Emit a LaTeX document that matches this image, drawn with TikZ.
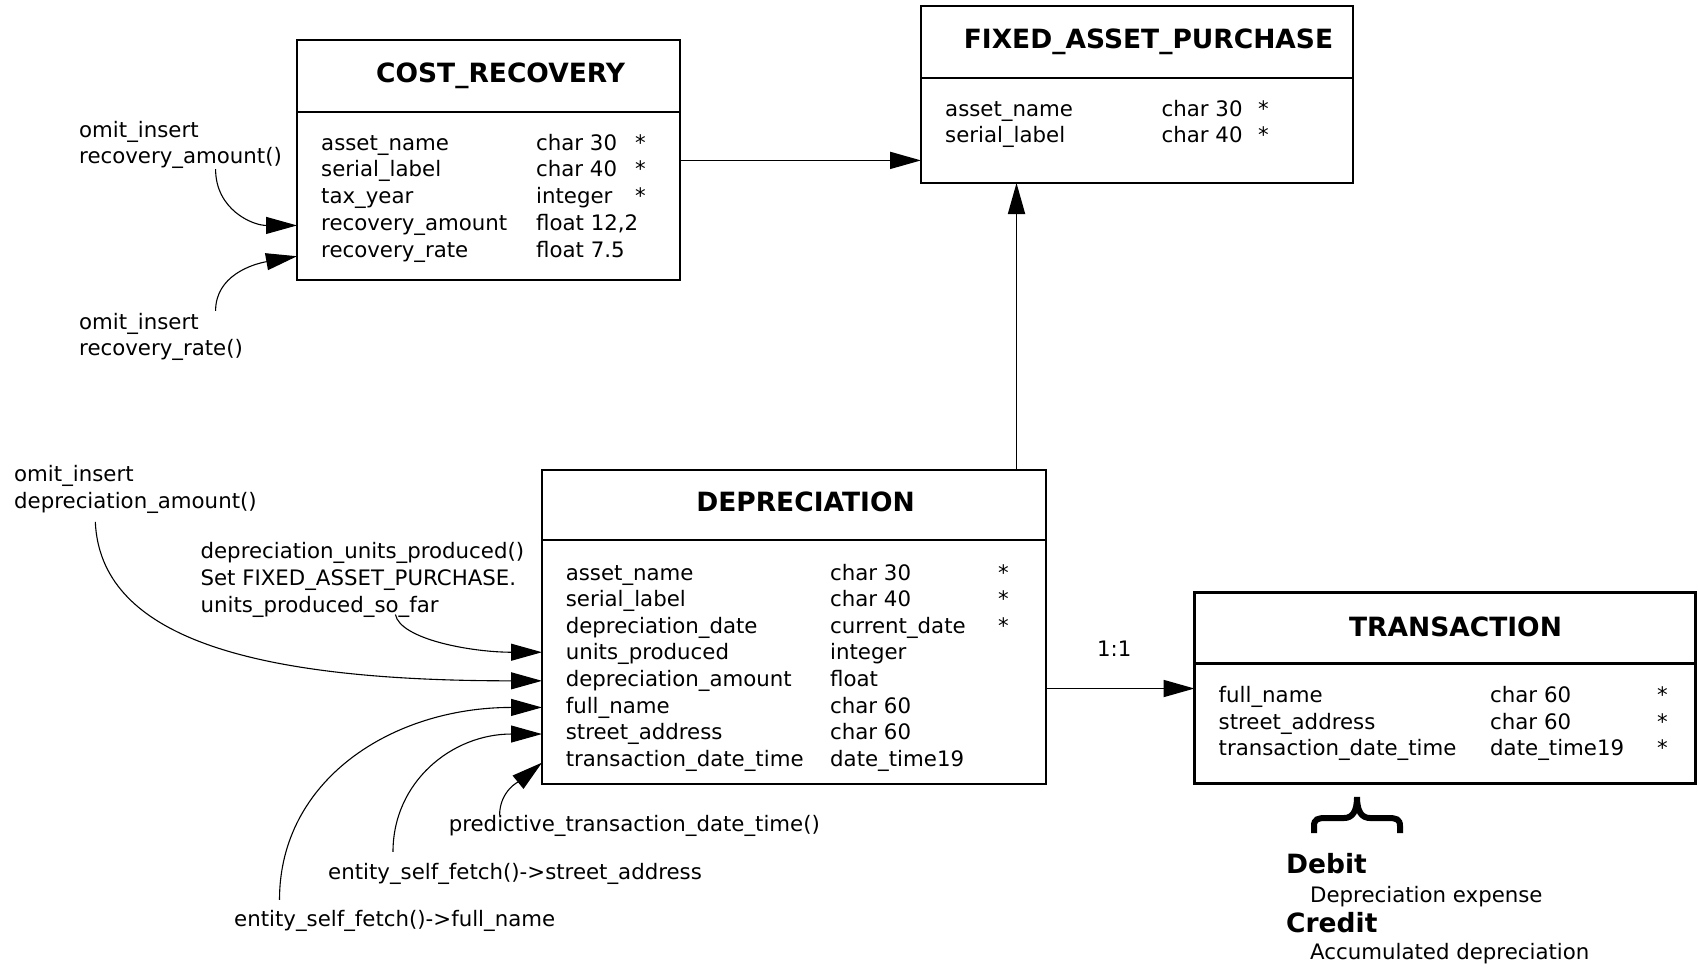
\documentclass[tikz,border=0pt]{standalone}
\usepackage{fontspec}
\setmainfont{DejaVu Sans}
\usetikzlibrary{arrows.meta}
\usetikzlibrary{calc}

\newcommand{\erdfield}{\fontsize{21.3}{26.8}\selectfont}
\newcommand{\erdhead}{\fontsize{26.5}{32}\selectfont\bfseries}

\begin{document}
\begin{tikzpicture}[x=1pt,y=-1pt]
\tikzset{>={Triangle[width=17pt,length=31pt]}}
\tikzstyle{entitybox}=[draw,line width=2.4pt,inner sep=0pt,outer sep=0pt]
\tikzstyle{entitytitle}=[font=\erdhead,inner sep=0pt,anchor=base]
\tikzstyle{field}=[font=\erdfield,inner sep=0pt,anchor=base west]
\tikzstyle{note}=[font=\erdfield,inner sep=0pt,anchor=north west,align=left]
\tikzstyle{link}=[->,line width=1.8pt]
\tikzstyle{hookarrow}=[->,line width=1.1pt]

\useasboundingbox (0,0) rectangle (1699,967);

% COST_RECOVERY
\node[entitybox,minimum width=383pt,minimum height=72pt] (crhead) at (488.5,76) {};
\node[entitybox,minimum width=383pt,minimum height=168pt,anchor=north] (crbody) at (crhead.south) {};
\node[entitytitle] (crtitle) at (500.6,82.7) {COST\_RECOVERY};
\foreach \fname/\ftype/\fkey [count=\i] in {asset\_name/char 30/*,serial\_label/char 40/*,tax\_year/integer/*,recovery\_amount/{float 12,2}/{},recovery\_rate/float 7.5/{}}{
  \node[field] (cr-n\i) at (321,{150+26.8*(\i-1)}) {\fname};
  \node[field] (cr-t\i) at (536,{150+26.8*(\i-1)}) {\ftype};
  \node[field] (cr-k\i) at (635,{150+26.8*(\i-1)}) {\fkey};
}

% FIXED_ASSET_PURCHASE
\node[entitybox,minimum width=432pt,minimum height=72pt] (fahead) at (1137,42) {};
\node[entitybox,minimum width=432pt,minimum height=105pt,anchor=north] (fabody) at (fahead.south) {};
\node[entitytitle] (fatitle) at (1148.5,48.7) {FIXED\_ASSET\_PURCHASE};
\foreach \fname/\ftype/\fkey [count=\i] in {asset\_name/char 30/*,serial\_label/char 40/*}{
  \node[field] (fa-n\i) at (945,{116+26.8*(\i-1)}) {\fname};
  \node[field] (fa-t\i) at (1161.5,{116+26.8*(\i-1)}) {\ftype};
  \node[field] (fa-k\i) at (1258,{116+26.8*(\i-1)}) {\fkey};
}

% DEPRECIATION
\node[entitybox,minimum width=504pt,minimum height=70pt] (dephead) at (794,505) {};
\node[entitybox,minimum width=504pt,minimum height=244pt,anchor=north] (depbody) at (dephead.south) {};
\node[entitytitle] (deptitle) at (805.5,511) {DEPRECIATION};
\foreach \fname/\ftype/\fkey [count=\i] in {asset\_name/char 30/*,serial\_label/char 40/*,depreciation\_date/current\_date/*,units\_produced/integer/{},depreciation\_amount/float/{},full\_name/char 60/{},street\_address/char 60/{},transaction\_date\_time/date\_time19/{}}{
  \node[field] (dep-n\i) at (565.6,{580+26.6*(\i-1)}) {\fname};
  \node[field] (dep-t\i) at (830,{580+26.6*(\i-1)}) {\ftype};
  \node[field] (dep-k\i) at (998,{580+26.6*(\i-1)}) {\fkey};
}

% TRANSACTION
\node[entitybox,minimum width=501pt,minimum height=71pt] (trhead) at (1445,628) {};
\node[entitybox,minimum width=501pt,minimum height=120pt,anchor=north] (trbody) at (trhead.south) {};
\node[entitytitle] (trtitle) at (1455.5,636) {TRANSACTION};
\foreach \fname/\ftype/\fkey [count=\i] in {full\_name/char 60/*,street\_address/char 60/*,transaction\_date\_time/date\_time19/*}{
  \node[field] (tr-n\i) at (1218.5,{702.5+26.5*(\i-1)}) {\fname};
  \node[field] (tr-t\i) at (1490,{702.5+26.5*(\i-1)}) {\ftype};
  \node[field] (tr-k\i) at (1657,{702.5+26.5*(\i-1)}) {\fkey};
}

% relations
\coordinate (crfa) at ($(crbody.east)+(0,-35.6)$);
\draw[link] (crfa) -- (crfa -| fabody.west);
\coordinate (depfa) at ($(dephead.north)+(222.5,0)$);
\draw[link] (depfa) -- (depfa |- fabody.south);
\coordinate (deptr) at ($(depbody.east)+(0,26.5)$);
\draw[link] (deptr) -- node[midway,xshift=-6pt,yshift=40pt,font=\erdfield,inner sep=0pt] (onetoone) {1:1} (deptr -| trbody.west);

% triggers
\node[note] (ra) at (79,120.8) {omit\_insert\\recovery\_amount()};
\node[note] (rr) at (79,312.8) {omit\_insert\\recovery\_rate()};
\node[note] (da) at (14,465.4) {omit\_insert\\depreciation\_amount()};
\node[note] (up) at (200.4,542.3) {depreciation\_units\_produced()\\Set FIXED\_ASSET\_PURCHASE.\\units\_produced\_so\_far};
\node[note] (pt) at (448.6,815.3) {predictive\_transaction\_date\_time()};
\node[note] (sa) at (328,862.8) {entity\_self\_fetch()->street\_address};
\node[note] (fn) at (234,909.8) {entity\_self\_fetch()->full\_name};

\draw[hookarrow] ($(ra.south west)+(136.6,0)$) .. controls +(0,40) and +(-45,0) .. (crbody.west |- cr-n4);
\draw[hookarrow] ($(rr.north west)+(136.6,-2)$) .. controls +(0,-35) and +(-45,8) .. ($(crbody.west |- cr-n5)+(0,4)$);
\draw[hookarrow] ($(da.south west)+(81.3,8)$) .. controls +(5,112) and +(-300,0) .. (depbody.west |- dep-n5);
\draw[hookarrow] ($(up.south west)+(195,-3)$) .. controls +(5,25) and +(-70,0) .. ($(depbody.west |- dep-n4)+(0,-2)$);
\draw[hookarrow] ($(fn.north west)+(45.5,-10)$) .. controls +(0,-120) and +(-150,0) .. (depbody.west |- dep-n6);
\draw[hookarrow] ($(sa.north west)+(65,-11)$) .. controls +(0,-70) and +(-90,0) .. (depbody.west |- dep-n7);
\draw[hookarrow] ($(pt.north west)+(51,0)$) .. controls +(0,-25) and +(-22,18) .. ($(depbody.west |- dep-n8)+(0,2)$);

% journal entry
\draw[line width=6pt] (1314,833) -- (1314,826) .. controls (1314,819) and (1318,818) .. (1326,818) -- (1344,818)
  .. controls (1352,818) and (1357,812) .. (1357,797)
  .. controls (1357,812) and (1362,818) .. (1370,818) -- (1388,818)
  .. controls (1396,818) and (1400,819) .. (1400,826) -- (1400,833);
\node[entitytitle,anchor=base west] (debit) at (1286,873) {Debit};
\node[field] (debitacct) at (1310,902) {Depreciation expense};
\node[entitytitle,anchor=base west] (credit) at (1286,932.5) {Credit};
\node[field] (creditacct) at (1310,959) {Accumulated depreciation};
\end{tikzpicture}
\end{document}
